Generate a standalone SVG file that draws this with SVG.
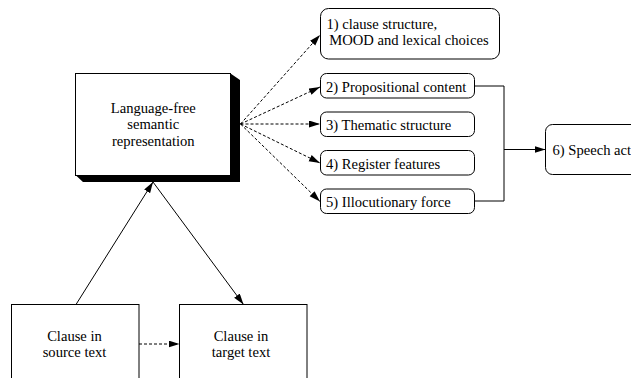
<svg xmlns="http://www.w3.org/2000/svg" width="631" height="378" viewBox="0 0 631 378">
<style>
.box{fill:#fff;stroke:#000;stroke-width:1}
.t{font-family:"Liberation Serif","Times New Roman",serif;font-size:14.6px;fill:#000}
.m{text-anchor:middle}
.c{fill:none;stroke:#000;stroke-width:1}
.d{stroke-dasharray:3 2}
</style>
<defs>
<marker id="ah" markerUnits="userSpaceOnUse" markerWidth="11" markerHeight="8" refX="11" refY="3.5" orient="auto">
<path d="M0,0 L11,3.5 L0,7 z" fill="#000"/>
</marker>
</defs>
<rect width="631" height="378" fill="#fff"/>
<g id="semantic">
<polygon points="230.5,73.5 240,80 240,182 83,182 76,175.5 230.5,175.5" fill="#000"/>
<rect class="box" x="75.5" y="73.5" width="155" height="102"/>
<text class="t m" x="153.3" y="112.5">Language-free</text>
<text class="t m" x="153.3" y="129">semantic</text>
<text class="t m" x="153.3" y="146">representation</text>
</g>
<g id="n1">
<rect class="box" x="320.5" y="8.5" width="179" height="50.5" rx="8"/>
<text class="t" x="326.5" y="28.5">1) clause structure,</text>
<text class="t" x="329.3" y="44.5">MOOD and lexical choices</text>
</g>
<g id="n2">
<rect class="box" x="320.5" y="73.5" width="154" height="24.5" rx="6"/>
<text class="t" x="326" y="91.5">2) Propositional content</text>
</g>
<g id="n3">
<rect class="box" x="320.5" y="112" width="154" height="24.5" rx="6"/>
<text class="t" x="326" y="130">3) Thematic structure</text>
</g>
<g id="n4">
<rect class="box" x="320.5" y="150.5" width="154" height="24.5" rx="6"/>
<text class="t" x="326" y="168.5">4) Register features</text>
</g>
<g id="n5">
<rect class="box" x="320.5" y="189" width="154" height="24.5" rx="6"/>
<text class="t" x="326" y="207">5) Illocutionary force</text>
</g>
<g id="n6">
<rect class="box" x="545.5" y="124.5" width="120" height="50" rx="7"/>
<text class="t" x="552.5" y="155">6) Speech act</text>
</g>
<g id="source">
<rect class="box" x="11.5" y="304.5" width="127.5" height="90"/>
<text class="t m" x="74.5" y="340.5">Clause in</text>
<text class="t m" x="74.5" y="356.5">source text</text>
</g>
<g id="target">
<rect class="box" x="179.5" y="304.5" width="127.5" height="90"/>
<text class="t m" x="241" y="340.5">Clause in</text>
<text class="t m" x="241" y="356.5">target text</text>
</g>
<g id="connectors">
<line class="c d" x1="240.5" y1="124" x2="320" y2="35" marker-end="url(#ah)"/>
<line class="c d" x1="240.5" y1="124" x2="320" y2="87" marker-end="url(#ah)"/>
<line class="c d" x1="240.5" y1="124" x2="320" y2="124" marker-end="url(#ah)"/>
<line class="c d" x1="240.5" y1="124" x2="320" y2="163" marker-end="url(#ah)"/>
<line class="c d" x1="240.5" y1="124" x2="320" y2="201.5" marker-end="url(#ah)"/>
<polyline class="c" points="474.5,86 504,86 504,201 474.5,201"/>
<line class="c" x1="504" y1="149.5" x2="545.5" y2="149.5" marker-end="url(#ah)"/>
<line class="c" x1="76" y1="304.5" x2="153" y2="182" marker-end="url(#ah)"/>
<line class="c" x1="153" y1="182" x2="243.5" y2="304.5" marker-end="url(#ah)"/>
<line class="c d" x1="139" y1="344" x2="179.5" y2="344" marker-end="url(#ah)"/>
</g>
</svg>
